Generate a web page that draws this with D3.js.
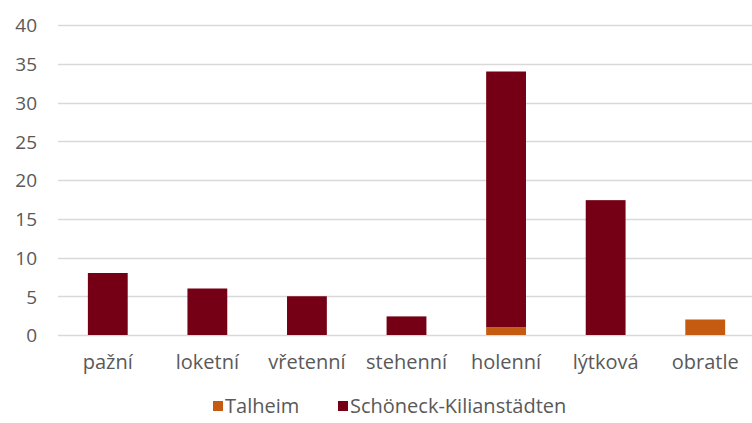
<!DOCTYPE html>
<html>
<head>
<meta charset="utf-8">
<script src="https://cdn.jsdelivr.net/npm/d3@7"></script>
<style>
  body { margin: 0; background: #fff; }
  text { font-family: "Open Sans", Lato, sans-serif; fill: #595959; }
</style>
</head>
<body>
<div id="chart"></div>
<script>
// data
let categories = ["pažní", "loketní", "vřetenní", "stehenní", "holenní", "lýtková", "obratle"];
let talheim = [0, 0, 0, 0, 1, 0, 2];
let schoneck = [8, 6, 5, 2.4, 33, 17.4, 0];
let seriesNames = ["Talheim", "Schöneck-Kilianstädten"];
let seriesColors = ["#C55A11", "#750016"];
let yTicks = [0, 5, 10, 15, 20, 25, 30, 35, 40];

let width_svg = 752, height_svg = 423;
let margin = { top: 25, right: 0, bottom: 88, left: 58 };
let width = width_svg - margin.left - margin.right;
let height = height_svg - margin.top - margin.bottom;

let svg = d3.select("#chart").append("svg")
    .attr("width", width_svg)
    .attr("height", height_svg);

let chart = svg.append("g")
    .attr("transform", `translate(${margin.left}, ${margin.top})`);

let rows = categories.map((c, i) => ({ cat: c, Talheim: talheim[i], "Schöneck-Kilianstädten": schoneck[i] }));
let stacked = d3.stack().keys(seriesNames)(rows);

let x = d3.scaleBand().domain(categories).range([0, 697]).paddingInner(0.6).paddingOuter(0.3);
let y = d3.scaleLinear().domain([0, 40]).range([height, 0]);

// gridlines
chart.append("g")
    .selectAll("line")
    .data(yTicks)
    .join("line")
    .attr("x1", 0)
    .attr("x2", width)
    .attr("y1", d => Math.round(y(d)) + 0.5)
    .attr("y2", d => Math.round(y(d)) + 0.5)
    .attr("stroke", "#d9d9d9")
    .attr("stroke-width", 1.3);

// y axis labels
let yAxis = chart.append("g")
    .attr("transform", "translate(-21,0)")
    .call(d3.axisLeft(y).tickValues(yTicks).tickSize(0).tickPadding(0));
yAxis.select(".domain").remove();
yAxis.selectAll("text").style("font-size", "19px").attr("fill", "#595959").attr("dy", "0.36em");

// bars
chart.selectAll("g.series")
    .data(stacked)
    .join("g")
    .attr("class", "series")
    .attr("fill", (d, i) => seriesColors[i])
    .selectAll("rect")
    .data(d => d)
    .join("rect")
    .attr("x", d => x(d.data.cat))
    .attr("width", x.bandwidth())
    .attr("y", d => y(d[1]))
    .attr("height", d => y(d[0]) - y(d[1]));

// x axis labels
let xAxis = chart.append("g")
    .attr("transform", `translate(0, ${height})`)
    .call(d3.axisBottom(x).tickSize(0).tickPadding(20));
xAxis.select(".domain").remove();
xAxis.selectAll("text").style("font-size", "20px").attr("fill", "#595959");

// legend
let legend = svg.append("g").attr("transform", "translate(213, 406)");
let legendX = [0, 125];
seriesNames.forEach((s, i) => {
    let lg = legend.append("g").attr("transform", `translate(${legendX[i]}, 0)`);
    lg.append("rect").attr("x", 0).attr("y", -5).attr("width", 10).attr("height", 10).attr("fill", seriesColors[i]);
    lg.append("text").attr("x", 12).attr("y", 0).attr("dy", "0.36em")
        .style("font-size", "20px").text(s);
});
</script>
</body>
</html>
